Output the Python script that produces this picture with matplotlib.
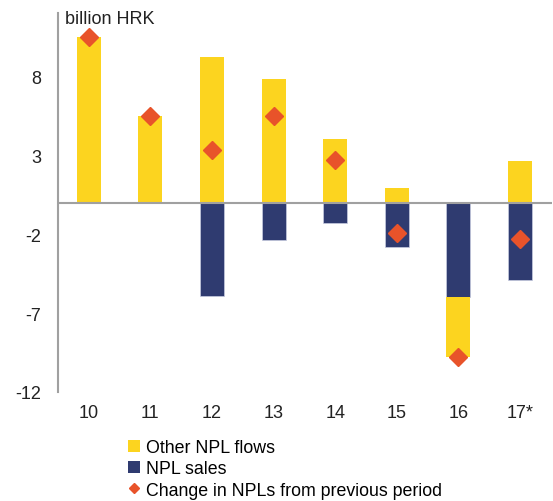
import matplotlib.pyplot as plt
from matplotlib.patches import Patch
from matplotlib.lines import Line2D
import numpy as np

plt.rcParams['font.family'] = ['Liberation Sans', 'DejaVu Sans']
plt.rcParams['axes.unicode_minus'] = False

# %% data, billion HRK
periods = ['10', '11', '12', '13', '14', '15', '16', '17*']
npl_sales = [0.0, 0.0, -5.9, -2.35, -1.28, -2.8, -6.0, -4.9]
other_flows = [10.5, 5.45, 9.2, 7.8, 4.0, 0.9, -3.8, 2.6]
npl_change = [10.5, 5.45, 3.3, 5.45, 2.72, -1.9, -9.8, -2.3]

c_yellow = '#FCD41F'
c_navy = '#2F3B70'
c_diamond = '#E8532A'
c_axis = '#A0A0A0'

# %% figure
fig = plt.figure(figsize=(5.53, 5.02), dpi=100)
ax = fig.add_axes([58 / 553, 1 - 393 / 502, (552 - 58) / 553, (393 - 14) / 502])

x = np.arange(len(periods))
w = 0.39
sales = np.array(npl_sales)
other = np.array(other_flows)
# other flows stack on top of sales when both negative
other_bottom = np.where(other < 0, sales, 0.0)

ax.bar(x, sales, w, color=c_navy, edgecolor='#C8CCE0', linewidth=0.5, zorder=2)
ax.bar(x, other, w, bottom=other_bottom, color=c_yellow, zorder=2)
ax.plot(x, npl_change, linestyle='none', marker='D', markersize=9.5,
        color=c_diamond, zorder=4)

ax.axhline(0, color=c_axis, linewidth=1.5, zorder=3)

ax.set_xlim(-0.5, 7.52)
ax.set_ylim(-12, 12)
ax.set_yticks([-12, -7, -2, 3, 8])
ax.set_xticks(x)
ax.set_xticklabels(periods)
ax.tick_params(axis='both', length=0, labelsize=13, colors='#222222')
ax.tick_params(axis='y', pad=12)
ax.tick_params(axis='x', pad=9)

for s in ['top', 'right', 'bottom']:
    ax.spines[s].set_visible(False)
ax.spines['left'].set_color(c_axis)
ax.spines['left'].set_linewidth(1.5)

fig.text(65 / 553, 1 - 19 / 502, 'billion HRK', fontsize=13, color='#222222',
         va='center', ha='left')

# %% legend
handles = [Patch(facecolor=c_yellow, edgecolor='none'),
           Patch(facecolor=c_navy, edgecolor='none'),
           Line2D([], [], linestyle='none', marker='D', markersize=5, color=c_diamond)]
labels = ['Other NPL flows', 'NPL sales', 'Change in NPLs from previous period']
fig.legend(handles, labels, loc='upper left', bbox_to_anchor=(128 / 553, 1 - 440 / 502),
           frameon=False, fontsize=12.8, handlelength=0.7, handleheight=0.7,
           handletextpad=0.3, labelspacing=0.24, borderaxespad=0, borderpad=0)

fig.savefig('out.png', dpi=100)
